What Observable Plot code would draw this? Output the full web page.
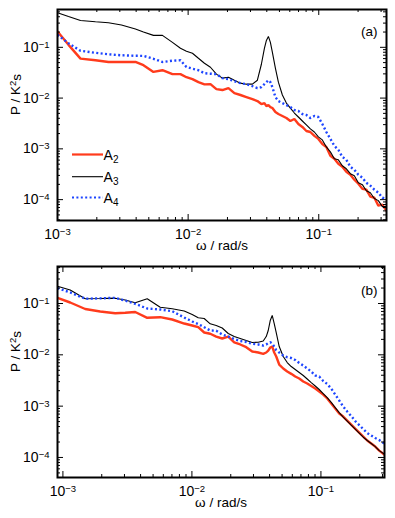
<!DOCTYPE html>
<html><head><meta charset="utf-8">
<script src="https://cdn.jsdelivr.net/npm/d3@7"></script>
<script src="https://cdn.jsdelivr.net/npm/@observablehq/plot@0.6"></script>
<style>body{margin:0;background:#fff} svg{display:block}</style>
</head><body><div id="chart"></div>
<script>
// ---------- Panel (a) ----------
const omegaA = [0.001,0.001214,0.0015,0.001953,0.002456,0.003088,0.00395,0.00455,0.005425,0.006358,0.007586,0.008733,0.009705,0.01079,0.01199,0.01333,0.01482,0.01646,0.0183,0.02034,0.0226,0.02513,0.02793,0.03105,0.0339,0.03637,0.03836,0.03973,0.04115,0.04263,0.04416,0.04655,0.04908,0.05266,0.05651,0.06063,0.06506,0.06981,0.0749,0.08037,0.08624,0.09253,0.09929,0.1065,0.1143,0.1227,0.1316,0.1412,0.1515,0.1626,0.1745,0.1872,0.2009,0.2156,0.2313,0.2482,0.2663,0.2858,0.3067,0.3291];
const a2A = [0.206,0.1119,0.06,0.0556,0.0515,0.0515,0.0515,0.0444,0.0328,0.0354,0.0296,0.0296,0.0258,0.0236,0.0206,0.0186,0.0188,0.015,0.0144,0.0157,0.0125,0.0115,0.0105,0.00956,0.00873,0.00763,0.00798,0.00697,0.00729,0.00666,0.00637,0.00531,0.00486,0.00444,0.00405,0.00354,0.00388,0.00309,0.0027,0.00225,0.00215,0.0018,0.00157,0.00125,0.00109,0.000729,0.000637,0.000508,0.000444,0.000354,0.000309,0.000247,0.000206,0.000164,0.000157,0.000115,0.000109,0.0000763,0.0000798,0.0000608];
const a3A = [0.479,0.405,0.338,0.319,0.305,0.276,0.23,0.201,0.172,0.172,0.125,0.0956,0.0835,0.0763,0.0608,0.0486,0.0405,0.0296,0.0247,0.0258,0.0225,0.0197,0.0188,0.0188,0.0225,0.0464,0.0956,0.137,0.164,0.125,0.0798,0.0388,0.0206,0.0115,0.00798,0.00637,0.00508,0.00424,0.00354,0.00296,0.00247,0.00215,0.00172,0.0015,0.00109,0.000873,0.000637,0.000608,0.000464,0.000405,0.000324,0.000296,0.000215,0.000197,0.00015,0.000137,0.000105,0.0000956,0.0000729,0.0000729];
const a4A = [0.177,0.12,0.0854,0.078,0.0729,0.0697,0.0681,0.0678,0.0595,0.0515,0.0544,0.0556,0.0411,0.0379,0.0354,0.0309,0.0302,0.0296,0.0247,0.0236,0.0215,0.0197,0.0188,0.0172,0.0157,0.0164,0.0188,0.0206,0.0225,0.0206,0.0164,0.0105,0.00873,0.00798,0.00729,0.00666,0.00582,0.00556,0.00486,0.00464,0.00405,0.00444,0.00424,0.00309,0.00215,0.00157,0.00115,0.000956,0.000697,0.000608,0.000444,0.000388,0.000309,0.00027,0.000215,0.000188,0.000157,0.000137,0.000109,0.000105];

// ---------- Panel (b) ----------
const omegaB = [0.000908,0.001139,0.001489,0.001946,0.002543,0.00304,0.003635,0.004502,0.005679,0.007035,0.008716,0.01005,0.01119,0.01245,0.01386,0.01543,0.01717,0.01912,0.02128,0.02368,0.02636,0.02934,0.03266,0.0357,0.03767,0.03904,0.04046,0.04193,0.04345,0.04503,0.0475,0.05102,0.0548,0.05886,0.06322,0.0679,0.07293,0.07832,0.08412,0.09035,0.097,0.1042,0.1119,0.1202,0.1291,0.1386,0.1489,0.1599,0.1717,0.1844,0.1981,0.2128,0.2285,0.2454,0.2636,0.2831,0.3096];
const a2B = [0.129,0.1046,0.0781,0.0698,0.0647,0.0659,0.0683,0.0526,0.0541,0.0488,0.0407,0.0373,0.0345,0.0272,0.0257,0.0227,0.0208,0.0227,0.0174,0.0159,0.0141,0.0116,0.0111,0.01046,0.0111,0.0121,0.0139,0.0145,0.0111,0.00927,0.00647,0.00541,0.00473,0.00426,0.00378,0.00345,0.00302,0.00276,0.00247,0.0022,0.00193,0.00168,0.00141,0.00112,0.000898,0.000718,0.000627,0.000524,0.000438,0.000366,0.000306,0.000256,0.000214,0.000187,0.000163,0.000136,0.000114];
const a3B = [0.217,0.183,0.124,0.125,0.127,0.117,0.103,0.124,0.0847,0.0788,0.0714,0.061,0.0526,0.051,0.0402,0.0373,0.0333,0.026,0.0227,0.0208,0.019,0.0174,0.0176,0.0186,0.0227,0.0298,0.0466,0.0584,0.0407,0.0272,0.0145,0.00927,0.00708,0.00591,0.00517,0.00452,0.00395,0.00338,0.00288,0.00247,0.00211,0.00176,0.00147,0.00118,0.000939,0.00075,0.000613,0.000512,0.000428,0.000358,0.000299,0.000248,0.000214,0.000187,0.000163,0.000136,0.000117];
const a4B = [0.199,0.164,0.124,0.126,0.129,0.114,0.0987,0.0799,0.0764,0.0708,0.0533,0.0446,0.0398,0.0345,0.0298,0.0294,0.0249,0.0227,0.0203,0.0186,0.0178,0.0164,0.0159,0.0152,0.0159,0.017,0.0176,0.0166,0.0145,0.0124,0.0111,0.00969,0.00898,0.00866,0.00792,0.00692,0.00618,0.00541,0.00473,0.00395,0.00378,0.00309,0.0027,0.0022,0.00168,0.00129,0.000982,0.000785,0.000641,0.000512,0.000428,0.000358,0.000299,0.000267,0.000239,0.000218,0.000187];

// ---------- axes / labels ----------
const xMajorTicks = [0.001, 0.01, 0.1];
const xTickExponents = ["\u22123", "\u22122", "\u22121"];
const yMajorTicks = [0.0001, 0.001, 0.01, 0.1];
const yTickExponents = ["\u22124", "\u22123", "\u22122", "\u22121"];
const tickBase = "10";
const xLabel = "ω / rad/s";
const yLabelParts = ["P / K", "2", "s"];
const seriesNames = ["A2", "A3", "A4"];
const seriesColors = ["#ff3b1c", "#000000", "#1d45ff"];
const panelTags = ["(a)", "(b)"];

const FONT = "'Liberation Sans', Arial, Helvetica, sans-serif";
const W = 395;
const DOTS = "2,2.4";

function minorTicks(lo, hi) {
  const out = [];
  for (let e = -6; e <= 1; e++) for (let m = 2; m <= 9; m++) {
    const v = m * Math.pow(10, e);
    if (v >= lo && v <= hi) out.push(v);
  }
  return out;
}

function panel(cfg) {
  const H = cfg.height;
  const fh = H - cfg.mt - cfg.mb;
  const fw = W - cfg.ml - cfg.mr;
  const [x0, x1] = cfg.xDomain, [y0, y1] = cfg.yDomain;
  const xmaj = xMajorTicks.filter(v => v >= x0 && v <= x1);
  const ymaj = yMajorTicks.filter(v => v >= y0 && v <= y1);
  const xmin = minorTicks(x0, x1), ymin = minorTicks(y0, y1);
  const rows = [];
  cfg.omega.forEach((w, i) => {
    cfg.series.forEach((arr, k) => rows.push({w, p: arr[i], s: seriesNames[k]}));
  });
  const sel = k => rows.filter(r => r.s === seriesNames[k]);
  const majL = 6, minL = 3;
  const svg = Plot.plot({
    width: W, height: H,
    marginTop: cfg.mt, marginBottom: cfg.mb, marginLeft: cfg.ml, marginRight: cfg.mr,
    style: {fontFamily: FONT, fontSize: "13px", color: "#000", background: "#fff"},
    x: {type: "log", domain: cfg.xDomain},
    y: {type: "log", domain: cfg.yDomain},
    marks: [
      Plot.line(sel(0), {x: "w", y: "p", stroke: seriesColors[0], strokeWidth: 2.4, strokeLinejoin: "miter", clip: true}),
      Plot.line(sel(1), {x: "w", y: "p", stroke: seriesColors[1], strokeWidth: 1.1, strokeLinejoin: "miter", clip: true}),
      Plot.line(sel(2), {x: "w", y: "p", stroke: seriesColors[2], strokeWidth: 2.4, strokeDasharray: DOTS, strokeLinecap: "butt", clip: true}),
      // inward ticks, all four sides
      Plot.tickX(xmaj, {x: d => d, insetTop: fh - majL, stroke: "#000"}),
      Plot.tickX(xmaj, {x: d => d, insetBottom: fh - majL, stroke: "#000"}),
      Plot.tickX(xmin, {x: d => d, insetTop: fh - minL, stroke: "#000"}),
      Plot.tickX(xmin, {x: d => d, insetBottom: fh - minL, stroke: "#000"}),
      Plot.tickY(ymaj, {y: d => d, insetRight: fw - majL, stroke: "#000"}),
      Plot.tickY(ymaj, {y: d => d, insetLeft: fw - majL, stroke: "#000"}),
      Plot.tickY(ymin, {y: d => d, insetRight: fw - minL, stroke: "#000"}),
      Plot.tickY(ymin, {y: d => d, insetLeft: fw - minL, stroke: "#000"}),
      Plot.axisX(xmaj, {tickSize: 0, tickPadding: 9, fontSize: 14, label: null,
        tickFormat: d => tickBase + "|" + xTickExponents[xMajorTicks.indexOf(d)]}),
      Plot.axisY(ymaj, {tickSize: 0, tickPadding: 8, fontSize: 14, label: null,
        tickFormat: d => tickBase + "|" + yTickExponents[yMajorTicks.indexOf(d)]}),
      Plot.text([xLabel], {text: d => d, frameAnchor: "bottom", dy: cfg.xLabelDy, fontSize: 13.5}),
      Plot.text([yLabelParts.join("|")], {text: d => d, frameAnchor: "left", dx: -42, rotate: -90, fontSize: 13.5}),
      Plot.text([cfg.tag], {text: d => d, frameAnchor: "top-right", textAnchor: "end", dx: cfg.tagDx, dy: cfg.tagDy, fontSize: 13.5}),
      Plot.frame({stroke: "#000", strokeWidth: 2})
    ]
  });
  // superscript exponents in tick labels and y label
  d3.select(svg).selectAll("text").each(function () {
    const node = d3.select(this);
    const s = this.textContent;
    if (!s.includes("|")) return;
    const parts = s.split("|");
    node.text(null);
    if (parts.length === 2) {
      node.append("tspan").text(parts[0]);
      node.append("tspan").attr("dy", "-0.42em").attr("font-size", "0.68em").text(parts[1]);
    } else {
      node.append("tspan").text(parts[0]);
      node.append("tspan").attr("dy", "-0.4em").attr("font-size", "0.7em").text(parts[1]);
      node.append("tspan").attr("dy", "0.4em").text(parts[2]);
    }
  });
  return svg;
}

const svgA = panel({
  height: 259, mt: 9, mb: 39, ml: 57, mr: 9,
  xDomain: [0.001, 0.33], yDomain: [3.88e-5, 0.556],
  omega: omegaA, series: [a2A, a3A, a4A], tag: panelTags[0], tagDx: -9, tagDy: 17, xLabelDy: 29
});
const svgB = panel({
  height: 259, mt: 7, mb: 41, ml: 57, mr: 11,
  xDomain: [0.000908, 0.311], yDomain: [4.07e-5, 0.526],
  omega: omegaB, series: [a2B, a3B, a4B], tag: panelTags[1], tagDx: -7, tagDy: 19, xLabelDy: 29
});

// legend in panel (a)
const lg = d3.select(svgA).append("g").attr("font-family", FONT).attr("font-size", 14);
const legendY = [154.5, 176.7, 197.5];
seriesNames.forEach((name, i) => {
  lg.append("line").attr("x1", 72).attr("x2", 103).attr("y1", legendY[i]).attr("y2", legendY[i])
    .attr("stroke", seriesColors[i]).attr("stroke-width", i === 1 ? 1.1 : 2.2)
    .attr("stroke-dasharray", i === 2 ? DOTS : null);
  const t = lg.append("text").attr("x", 111).attr("y", legendY[i] + 5).attr("fill", "#000");
  t.append("tspan").text(name[0]);
  t.append("tspan").attr("font-size", 10).attr("dy", 3).text(name.slice(1));
});

document.getElementById("chart").append(svgA, svgB);
</script>
</body></html>
